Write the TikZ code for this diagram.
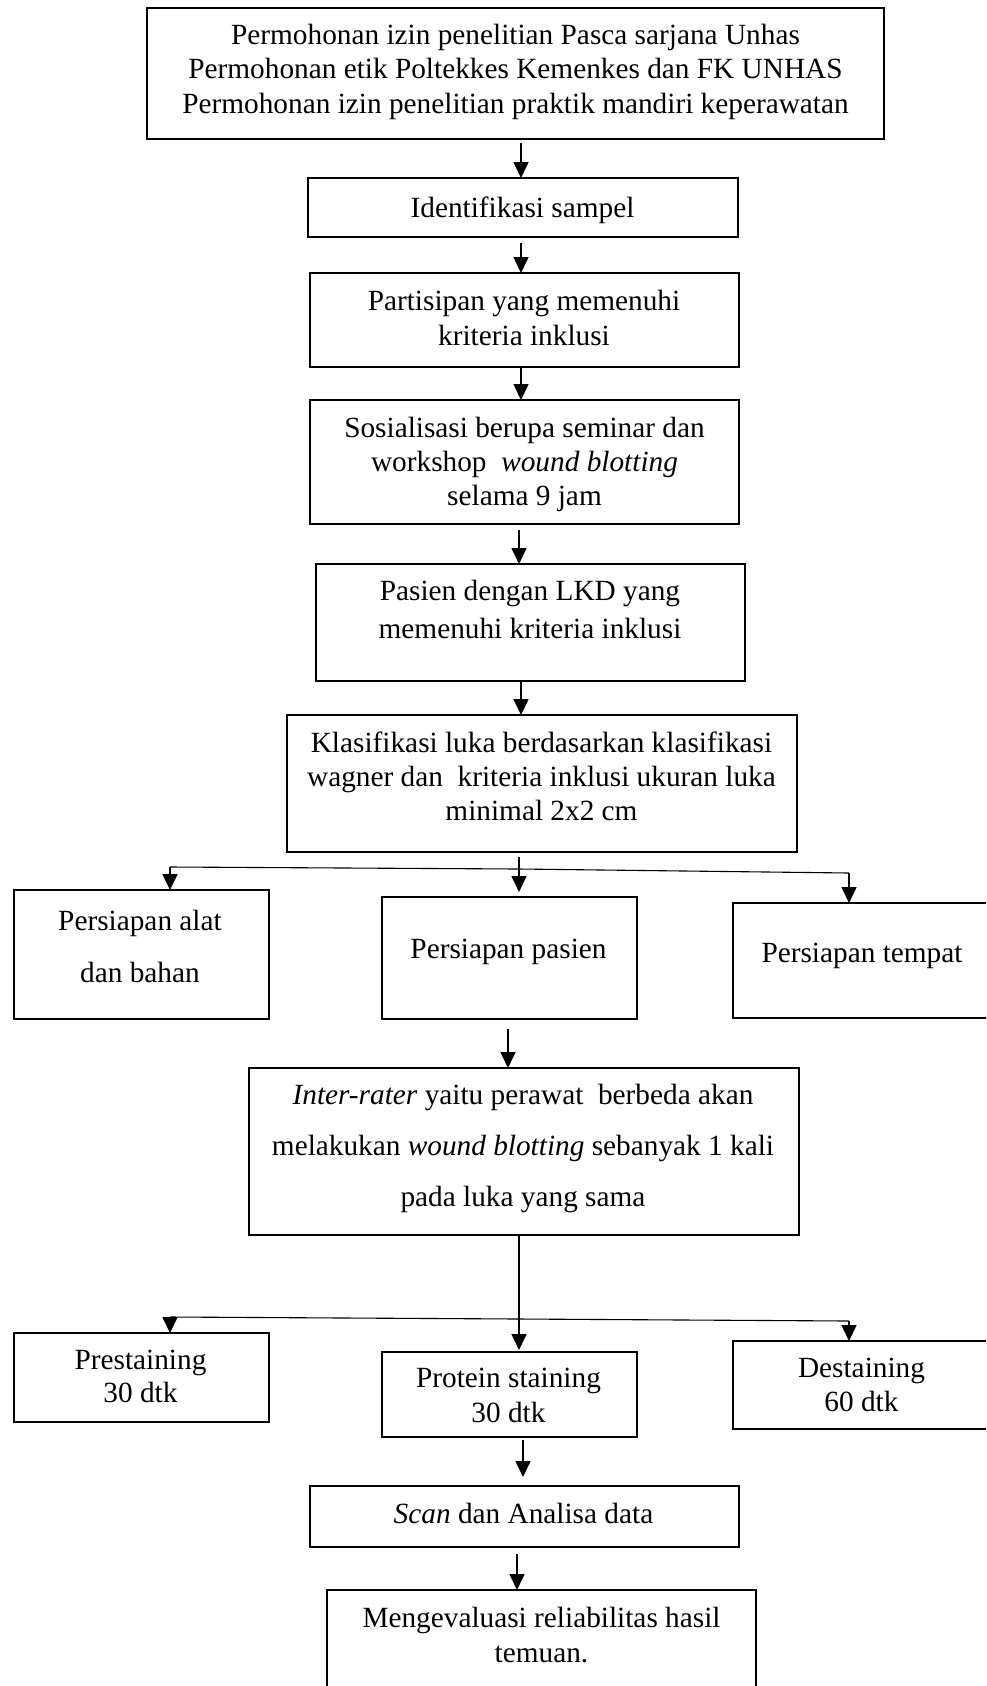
\documentclass[tikz,border=0pt]{standalone}
\usepackage{fontspec}
\setmainfont{Liberation Serif}
\usetikzlibrary{arrows.meta}
\tikzset{
  box/.style={draw, line width=1.7pt, inner sep=0pt, outer sep=0pt},
  boxb/.style={box, line width=2.4pt},
  txt/.style={anchor=north, inner sep=0pt, outer sep=0pt, align=center},
  arr/.style={line width=1.6pt, -{Triangle[length=16pt,width=15pt]}},
  branch/.style={line width=1.1pt},
}
\newcommand{\fs}[1]{\fontsize{29.3}{#1}\selectfont}
\begin{document}
\begin{tikzpicture}[x=1pt,y=-1pt]
\useasboundingbox (0,0) rectangle (986,1686);
\clip (0,0) rectangle (986,1686);
% boxes
\node[box, minimum width=737pt, minimum height=131pt] (b1) at (515.5,73.5) {};
\node[box, minimum width=430pt, minimum height=59pt] (b2) at (523,207.5) {};
\node[box, minimum width=429pt, minimum height=94pt] (b3) at (524.5,320) {};
\node[box, minimum width=429pt, minimum height=124pt] (b4) at (524.5,462) {};
\node[box, minimum width=429pt, minimum height=117pt] (b5) at (530.5,622.5) {};
\node[box, minimum width=510pt, minimum height=137pt] (b6) at (542,783.5) {};
\node[boxb, minimum width=255pt, minimum height=129pt] (b7a) at (141.5,954.5) {};
\node[boxb, minimum width=255pt, minimum height=122pt] (b7b) at (509.5,958) {};
\node[boxb, minimum width=277pt, minimum height=115pt] (b7c) at (871.5,960.5) {};
\node[box, minimum width=550pt, minimum height=167pt] (b8) at (524,1151.5) {};
\node[boxb, minimum width=255pt, minimum height=89pt] (b9a) at (141.5,1377.5) {};
\node[boxb, minimum width=255pt, minimum height=85pt] (b9b) at (509.5,1394.5) {};
\node[boxb, minimum width=277pt, minimum height=88pt] (b9c) at (871.5,1385) {};
\node[box, minimum width=429pt, minimum height=61pt] (b10) at (524.5,1516.5) {};
\node[box, minimum width=429pt, minimum height=130pt] (b11) at (541.5,1655) {};
% texts (north anchor = first baseline - 20)
\node[txt, font=\fs{34.5}] (t1) at (515.5,24) {Permohonan izin penelitian Pasca sarjana Unhas\\Permohonan etik Poltekkes Kemenkes dan FK UNHAS\\ Permohonan izin penelitian praktik mandiri keperawatan};
\node[txt, font=\fs{34}] (t2) at (522.5,197) {Identifikasi sampel};
\node[txt, font=\fs{35}] (t3) at (524,290) {Partisipan yang memenuhi\\kriteria inklusi};
\node[txt, font=\fs{34}] (t4) at (524.5,417) {Sosialisasi berupa seminar dan\\workshop\ \ \textit{wound blotting}\\selama 9 jam};
\node[txt, font=\fs{38}] (t5) at (530,580) {Pasien dengan LKD yang\\memenuhi kriteria inklusi};
\node[txt, font=\fs{34}] (t6) at (541.5,732) {Klasifikasi luka berdasarkan klasifikasi\\wagner dan\ \ kriteria inklusi ukuran luka\\minimal 2x2 cm};
\node[txt, font=\fs{52}] (t7a) at (140,910) {Persiapan alat\\dan bahan};
\node[txt, font=\fs{34}] (t7b) at (508.5,939) {Persiapan pasien};
\node[txt, font=\fs{34}] (t7c) at (862,943) {Persiapan tempat};
\node[txt, font=\fs{51}] (t8) at (523,1084) {\textit{Inter-rater} yaitu perawat\ \ berbeda akan\\melakukan \textit{wound blotting} sebanyak 1 kali\\pada luka yang sama};
\node[txt, font=\fs{33}] (t9a) at (140.5,1350) {Prestaining\\30 dtk};
\node[txt, font=\fs{35}] (t9b) at (508.5,1368) {Protein staining\\30 dtk};
\node[txt, font=\fs{34}] (t9c) at (861.5,1358) {Destaining\\60 dtk};
\node[txt, font=\fs{34}] (t10) at (523.5,1503) {\textit{Scan} dan Analisa data};
\node[txt, font=\fs{35}] (t11) at (541.5,1607) {Mengevaluasi reliabilitas hasil\\temuan.};
% connectors
\draw[arr] ([xshift=5.5pt,yshift=-4pt]b1.south) -- ([xshift=-2pt]b2.north);
\draw[arr] ([xshift=-2pt,yshift=-6pt]b2.south) -- ([xshift=-3.5pt]b3.north);
\draw[arr] ([xshift=-3.5pt]b3.south) -- ([xshift=-3.5pt]b4.north);
\draw[arr] ([xshift=-5.5pt,yshift=-6pt]b4.south) -- ([xshift=-11.5pt]b5.north);
\draw[arr] ([xshift=-9.5pt]b5.south) -- ([xshift=-21pt]b6.north);
% first branching
\coordinate (j1) at (519,869);
\coordinate (l1) at (170,867);
\coordinate (r1) at (849,873);
\draw[arr] ([xshift=-23pt,yshift=-5pt]b6.south) -- ([xshift=9.5pt,yshift=5pt]b7b.north);
\draw[branch] (l1) -- (j1) -- (r1);
\draw[arr] (l1) -- (l1 |- b7a.north);
\draw[arr] (r1) -- (r1 |- b7c.north);
\draw[arr] ([xshift=-1.5pt,yshift=-10pt]b7b.south) -- ([xshift=-16pt]b8.north);
% second branching
\coordinate (j2) at (519,1319);
\coordinate (l2) at (170,1317);
\coordinate (r2) at (849,1321);
\draw[arr] ([xshift=-5pt]b8.south) -- ([xshift=9.5pt,yshift=2pt]b9b.north);
\draw[branch] (l2) -- (j2) -- (r2);
\draw[arr] (l2) -- (l2 |- b9a.north);
\draw[arr] (r2) -- (r2 |- b9c.north);
\draw[arr] ([xshift=13.5pt,yshift=-3pt]b9b.south) -- ([xshift=-1.5pt,yshift=9pt]b10.north);
\draw[arr] ([xshift=-7.5pt,yshift=-7pt]b10.south) -- ([xshift=-24.5pt]b11.north);
\end{tikzpicture}
\end{document}
